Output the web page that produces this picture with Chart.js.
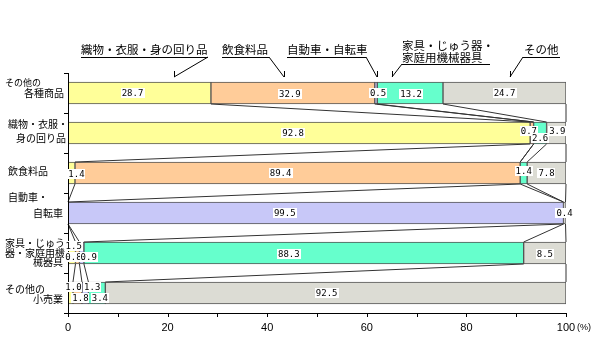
<!DOCTYPE html>
<html>
<head>
<meta charset="utf-8">
<script src="https://cdn.jsdelivr.net/npm/chart.js@4/dist/chart.umd.min.js"></script>
<style>
  html, body { margin: 0; padding: 0; background: #fff; }
</style>
</head>
<body>
<canvas id="chart" width="600" height="360"></canvas>
<script>
// Data (percent shares)
const categories = [
    ['その他の', '各種商品'],
    ['織物・衣服・', '身の回り品'],
    ['飲食料品'],
    ['自動車・', '自転車'],
    ['家具・じゅう', '器・家庭用機', '械器具'],
    ['その他の', '小売業']
];
const seriesNames = ['織物・衣服・身の回り品', '飲食料品', '自動車・自転車', '家具・じゅう器・家庭用機械器具', 'その他'];
const textiles  = [28.7, 92.8, 1.4, 0, 1.5, 1.0];
const food      = [32.9, 0.7, 89.4, 0, 0.8, 1.8];
const vehicles  = [0.5, 0, 0, 99.5, 0.9, 1.3];
const furniture = [13.2, 2.6, 1.4, 0, 88.3, 3.4];
const others    = [24.7, 3.9, 7.8, 0.4, 8.5, 92.5];
const xTicks = [0, 20, 40, 60, 80, 100];

const seriesColors = ['#FFFF99', '#FFCC99', '#C8C8F8', '#66FFCC', '#DCDCD4'];
const jpFont = '"Noto Sans CJK JP", sans-serif';

// Category label layout (left column)
const catLayout = [
    [[5, 'left', 83, 9], [64, 'right', 93, 10]],
    [[8, 'left', 124, 10], [66, 'right', 138, 10]],
    [[8, 'left', 171, 10]],
    [[8, 'left', 197, 10], [63, 'right', 213, 10]],
    [[5, 'left', 243, 10], [5, 'left', 253, 10], [63, 'right', 262, 10]],
    [[5, 'left', 289, 10], [63, 'right', 299, 10]]
];

// Callout labels above the first bar
const callouts = [
    { lines: [[81, 50]], under: [81, 208, 57], leader: [208, 57, 174, 77] },
    { lines: [[222, 50]], under: [222, 269, 57], leader: [269, 57, 284, 77] },
    { lines: [[287, 50]], under: [287, 366, 57], leader: [366, 57, 377, 77] },
    { lines: [[402, 46], [402, 58]], under: [402, 490, 64], leader: [402, 64, 392, 77], text: ['家具・じゅう器・', '家庭用機械器具'] },
    { lines: [[524, 50]], under: [523, 560, 57], leader: [523, 57, 510, 77] }
];

// Value label nudges, key row-series
const labelOffsets = {
    '0-0': [-7, 0], '0-1': [-3, 1], '0-2': [2, 0], '0-3': [1, 1],
    '1-0': [-6, 0], '1-1': [-3, -2], '1-3': [0, 5], '1-4': [1, -2],
    '2-0': [5, 1], '2-1': [-17, 0], '2-3': [0, -2],
    '3-2': [-31, 0],
    '4-0': [2, -7], '4-1': [-4, 4], '4-2': [7, 4], '4-3': [-15, 1], '4-4': [0, 1],
    '5-0': [3, -6], '5-1': [3, 5], '5-2': [7, -6], '5-3': [3, 5], '5-4': [-9, 0]
};

const seriesData = [textiles, food, vehicles, furniture, others];

// Draw axes, series lines, labels
const decorPlugin = {
    id: 'decor',
    afterDatasetsDraw(chart) {
        const ctx = chart.ctx;
        const xs = chart.scales.x;
        const area = chart.chartArea;
        const n = categories.length;
        const rowH = (area.bottom - area.top) / n;
        ctx.save();

        // series lines between bars
        ctx.strokeStyle = '#333';
        ctx.lineWidth = 1;
        chart.data.datasets.forEach((ds, s) => {
            const meta = chart.getDatasetMeta(s);
            for (let i = 0; i < n - 1; i++) {
                const a = meta.data[i], b = meta.data[i + 1];
                ctx.beginPath();
                ctx.moveTo(a.x, a.y + a.height / 2);
                ctx.lineTo(b.x, b.y - b.height / 2);
                ctx.stroke();
            }
        });

        // y axis with ticks
        ctx.strokeStyle = '#000';
        ctx.beginPath();
        ctx.moveTo(area.left + 0.5, area.top);
        ctx.lineTo(area.left + 0.5, area.bottom + 4);
        for (let i = 0; i <= n; i++) {
            const y = Math.round(area.top + rowH * i) + 0.5;
            ctx.moveTo(area.left - 4, y);
            ctx.lineTo(area.left, y);
        }
        ctx.stroke();

        // x axis with ticks
        ctx.beginPath();
        ctx.moveTo(area.left, area.bottom + 0.5);
        ctx.lineTo(area.right, area.bottom + 0.5);
        for (let v = 0; v <= 100; v += 10) {
            const x = Math.round(xs.getPixelForValue(v)) + 0.5;
            ctx.moveTo(x, area.bottom);
            ctx.lineTo(x, area.bottom + 4);
        }
        ctx.stroke();

        ctx.fillStyle = '#000';
        ctx.font = '11px "Liberation Sans", sans-serif';
        ctx.textAlign = 'center';
        ctx.textBaseline = 'middle';
        xTicks.forEach(v => {
            ctx.fillText(String(v), xs.getPixelForValue(v), area.bottom + 15);
        });
        ctx.font = '9px "Liberation Sans", sans-serif';
        ctx.textAlign = 'left';
        ctx.fillText('(%)', xs.getPixelForValue(100) + 11, area.bottom + 15);

        // category labels
        categories.forEach((lines, i) => {
            lines.forEach((t, k) => {
                const [x, align, y, size] = catLayout[i][k];
                ctx.font = size + 'px ' + jpFont;
                ctx.textAlign = align;
                ctx.fillText(t, x, y);
            });
        });

        // callouts
        callouts.forEach((c, s) => {
            const texts = c.text || [seriesNames[s]];
            ctx.font = '11.5px ' + jpFont;
            ctx.textAlign = 'left';
            texts.forEach((t, k) => ctx.fillText(t, c.lines[k][0], c.lines[k][1]));
            ctx.beginPath();
            ctx.moveTo(c.under[0], c.under[2] + 0.5);
            ctx.lineTo(c.under[1], c.under[2] + 0.5);
            const [x1, y1, x2, y2] = c.leader;
            ctx.moveTo(x1, y1);
            ctx.lineTo(x2, y2);
            ctx.moveTo(x2 + 0.5, y2);
            ctx.lineTo(x2 + 0.5, y2 - 6);
            ctx.stroke();
        });

        // value labels
        ctx.font = '9px "DejaVu Sans Mono", monospace';
        ctx.textAlign = 'center';
        chart.data.datasets.forEach((ds, s) => {
            const meta = chart.getDatasetMeta(s);
            ds.data.forEach((v, i) => {
                if (!v) return;
                const el = meta.data[i];
                const off = labelOffsets[i + '-' + s] || [0, 0];
                const cx = (el.x + el.base) / 2 + off[0];
                const cy = el.y + off[1];
                const t = v.toFixed(1);
                const w = ctx.measureText(t).width + 2;
                ctx.fillStyle = '#fff';
                ctx.fillRect(Math.round(cx - w / 2), Math.round(cy - 5), Math.round(w), 10);
                ctx.fillStyle = '#000';
                ctx.fillText(t, cx, cy + 0.5);
            });
        });

        ctx.restore();
    }
};

new Chart(document.getElementById('chart'), {
    type: 'bar',
    data: {
        labels: categories,
        datasets: seriesData.map((d, s) => ({
            label: seriesNames[s],
            data: d,
            backgroundColor: seriesColors[s],
            borderColor: '#555',
            borderWidth: 1,
            borderSkipped: false,
            barThickness: 22
        }))
    },
    options: {
        indexAxis: 'y',
        responsive: false,
        animation: false,
        devicePixelRatio: 1,
        layout: { padding: { left: 68, right: 34, top: 73, bottom: 47 } },
        scales: {
            x: { stacked: true, min: 0, max: 100, display: false },
            y: { stacked: true, display: false }
        },
        plugins: {
            legend: { display: false },
            tooltip: { enabled: false }
        }
    },
    plugins: [decorPlugin]
});
</script>
</body>
</html>
